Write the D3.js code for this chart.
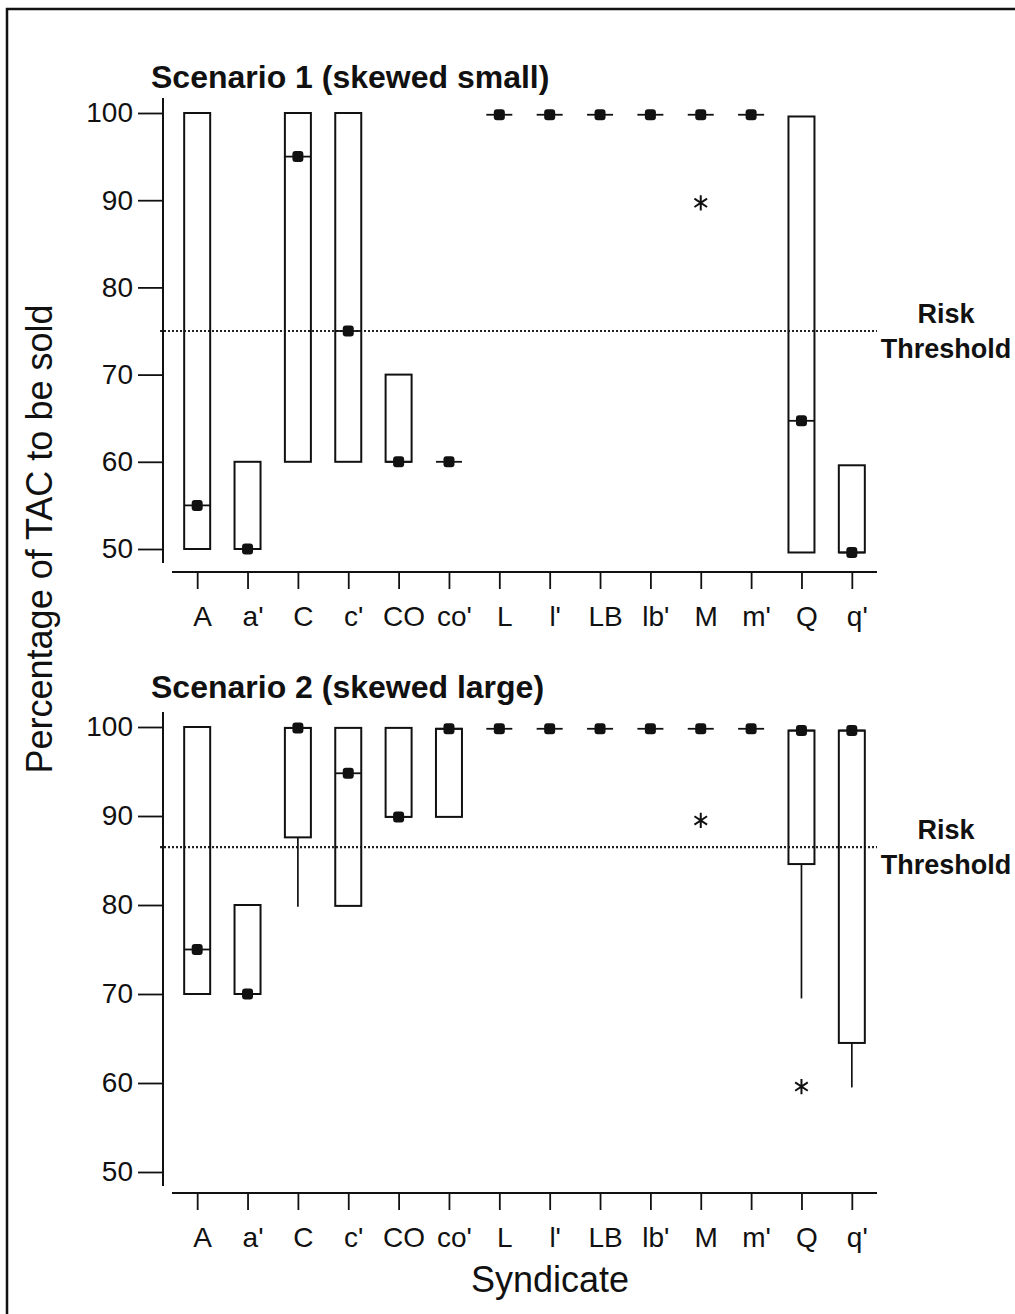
<!DOCTYPE html>
<html>
<head>
  <meta charset="UTF-8">
  <style>
    body { margin: 0; background: #fff; }
    svg text { font-family: "Liberation Sans", Arial, sans-serif; fill: #111; }
  </style>
</head>
<body>
<svg></svg>
<script src="https://d3js.org/d3.v7.min.js"></script>
<script>

// data
const categories = ["A", "a'", "C", "c'", "CO", "co'", "L", "l'", "LB", "lb'", "M", "m'", "Q", "q'"];
const yTicks = [50, 60, 70, 80, 90, 100];

// Scenario 1 (skewed small)
const s1Low    = [50, 50, 60, 60, 60, 60, 99.8, 99.8, 99.8, 99.8, 99.8, 99.8, 49.6, 49.6];
const s1Q1     = [50, 50, 60, 60, 60, 60, 99.8, 99.8, 99.8, 99.8, 99.8, 99.8, 49.6, 49.6];
const s1Median = [55, 50, 95, 75, 60, 60, 99.8, 99.8, 99.8, 99.8, 99.8, 99.8, 64.7, 49.6];
const s1Q3     = [100, 60, 100, 100, 70, 60, 99.8, 99.8, 99.8, 99.8, 99.8, 99.8, 99.6, 59.6];
const s1High   = [100, 60, 100, 100, 70, 60, 99.8, 99.8, 99.8, 99.8, 99.8, 99.8, 99.6, 59.6];
const s1Outliers = [["M", 89.7]];

// Scenario 2 (skewed large)
const s2Low    = [70, 70, 79.8, 79.9, 89.9, 89.9, 99.8, 99.8, 99.8, 99.8, 99.8, 99.8, 69.5, 59.5];
const s2Q1     = [70, 70, 87.6, 79.9, 89.9, 89.9, 99.8, 99.8, 99.8, 99.8, 99.8, 99.8, 84.6, 64.5];
const s2Median = [75, 70, 99.9, 94.8, 89.9, 99.8, 99.8, 99.8, 99.8, 99.8, 99.8, 99.8, 99.6, 99.6];
const s2Q3     = [100, 80, 99.9, 99.9, 99.9, 99.8, 99.8, 99.8, 99.8, 99.8, 99.8, 99.8, 99.6, 99.6];
const s2High   = [100, 80, 99.9, 99.9, 99.9, 99.8, 99.8, 99.8, 99.8, 99.8, 99.8, 99.8, 99.6, 99.6];
const s2Outliers = [["M", 89.5], ["Q", 59.6]];

const titles = ["Scenario 1 (skewed small)", "Scenario 2 (skewed large)"];
const riskThreshold = [75, 86.5];

let width = 1015, height = 1314;
let svg = d3.select("svg").attr("width", width).attr("height", height);

svg.append("rect").attr("x", 7).attr("y", 9).attr("width", 1020).attr("height", 1320)
  .attr("fill", "#fff").attr("stroke", "#111").attr("stroke-width", 2.5);

let x = d3.scalePoint().domain(categories).range([172, 877]).padding(0.5);
let boxW = 26;

// little asterisk symbol for outliers
const asterisk = {
  draw(ctx, size) {
    let r = Math.sqrt(size) / 2;
    ctx.moveTo(0, -r); ctx.lineTo(0, r);
    let dx = r * Math.sin(Math.PI / 3.2), dy = r * Math.cos(Math.PI / 3.2);
    ctx.moveTo(-dx, -dy); ctx.lineTo(dx, dy);
    ctx.moveTo(-dx, dy); ctx.lineTo(dx, -dy);
  }
};

let panels = [
  { y0: 549, y1: 113, axisY: 572, titleY: 88,
    low: s1Low, q1: s1Q1, med: s1Median, q3: s1Q3, high: s1High, out: s1Outliers },
  { y0: 1172, y1: 727, axisY: 1193, titleY: 698,
    low: s2Low, q1: s2Q1, med: s2Median, q3: s2Q3, high: s2High, out: s2Outliers }
];

panels.forEach((p, pi) => {
  let y = d3.scaleLinear().domain([50, 100]).range([p.y0, p.y1]);
  let g = svg.append("g");

  // y axis
  let ya = g.append("g").attr("transform", "translate(163,0)")
    .call(d3.axisLeft(y).tickValues(yTicks).tickSize(25).tickPadding(5));
  ya.select(".domain").remove();
  ya.selectAll(".tick line").attr("stroke", "#111").attr("stroke-width", 1.8);
  ya.selectAll(".tick text").style("font-size", "28px").attr("fill", "#222");
  g.append("line").attr("x1", 163).attr("x2", 163)
    .attr("y1", p.y1 - 15).attr("y2", p.y0 + 14)
    .attr("stroke", "#111").attr("stroke-width", 2);

  // x axis
  let xa = g.append("g").attr("transform", "translate(0," + p.axisY + ")")
    .call(d3.axisBottom(x).tickSize(17));
  xa.select(".domain").remove();
  xa.selectAll(".tick line").attr("stroke", "#111").attr("stroke-width", 1.8);
  xa.selectAll(".tick text").style("font-size", "28px").attr("fill", "#222")
    .attr("x", 5).attr("y", 34).attr("dy", "0.71em");
  g.append("line").attr("x1", 172).attr("x2", 877)
    .attr("y1", p.axisY).attr("y2", p.axisY)
    .attr("stroke", "#111").attr("stroke-width", 2);

  // title
  g.append("text").attr("x", 151).attr("y", p.titleY)
    .style("font-size", "32px").style("font-weight", "bold").text(titles[pi]);

  // risk threshold
  let ry = y(riskThreshold[pi]);
  g.append("line").attr("x1", 160).attr("x2", 877).attr("y1", ry).attr("y2", ry)
    .attr("stroke", "#222").attr("stroke-width", 2.2).attr("stroke-dasharray", "2,2");
  g.append("text").attr("x", 946).attr("y", ry - 8).attr("text-anchor", "middle")
    .style("font-size", "27px").style("font-weight", "bold").text("Risk");
  g.append("text").attr("x", 946).attr("y", ry + 27).attr("text-anchor", "middle")
    .style("font-size", "27px").style("font-weight", "bold").text("Threshold");

  let rows = categories.map((c, i) => ({ c: c, low: p.low[i], q1: p.q1[i], med: p.med[i], q3: p.q3[i], high: p.high[i] }));

  // whiskers
  g.selectAll(".whLow").data(rows.filter(d => d.low < d.q1)).enter().append("line")
    .attr("x1", d => x(d.c)).attr("x2", d => x(d.c))
    .attr("y1", d => y(d.q1)).attr("y2", d => y(d.low))
    .attr("stroke", "#111").attr("stroke-width", 1.7);
  g.selectAll(".whHigh").data(rows.filter(d => d.high > d.q3)).enter().append("line")
    .attr("x1", d => x(d.c)).attr("x2", d => x(d.c))
    .attr("y1", d => y(d.q3)).attr("y2", d => y(d.high))
    .attr("stroke", "#111").attr("stroke-width", 1.7);

  // boxes
  g.selectAll(".box").data(rows.filter(d => d.q3 > d.q1)).enter().append("rect")
    .attr("x", d => x(d.c) - boxW / 2).attr("width", boxW)
    .attr("y", d => y(d.q3)).attr("height", d => y(d.q1) - y(d.q3))
    .attr("fill", "none").attr("stroke", "#111").attr("stroke-width", 2);

  // medians
  g.selectAll(".medLine").data(rows).enter().append("line")
    .attr("x1", d => x(d.c) - boxW / 2).attr("x2", d => x(d.c) + boxW / 2)
    .attr("y1", d => y(d.med)).attr("y2", d => y(d.med))
    .attr("stroke", "#111").attr("stroke-width", 1.8);
  g.selectAll(".medDot").data(rows).enter().append("rect")
    .attr("x", d => x(d.c) - 5.5).attr("y", d => y(d.med) - 5.5)
    .attr("width", 11).attr("height", 11).attr("rx", 3)
    .attr("fill", "#111");

  // outliers
  g.selectAll(".out").data(p.out).enter().append("path")
    .attr("transform", d => "translate(" + x(d[0]) + "," + y(d[1]) + ")")
    .attr("d", d3.symbol().type(asterisk).size(230))
    .attr("fill", "none").attr("stroke", "#111").attr("stroke-width", 2);
});

// axis titles
svg.append("text").attr("transform", "translate(52,539) rotate(-90)")
  .attr("text-anchor", "middle").style("font-size", "36px").attr("fill", "#222")
  .text("Percentage of TAC to be sold");
svg.append("text").attr("x", 550).attr("y", 1292).attr("text-anchor", "middle")
  .style("font-size", "36px").attr("fill", "#222").text("Syndicate");

</script>
</body>
</html>
